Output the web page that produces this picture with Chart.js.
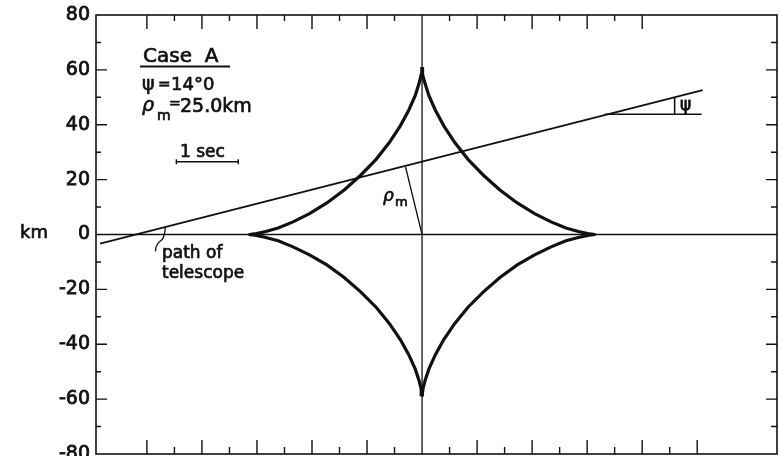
<!DOCTYPE html>
<html><head><meta charset="utf-8">
<script src="https://cdn.jsdelivr.net/npm/chart.js@4/dist/chart.umd.min.js"></script>
<style>html,body{margin:0;padding:0;background:#fff}#wrap{width:781px;height:456px}</style>
</head><body><div id="wrap"><canvas id="c" width="781" height="456"></canvas></div>
<script>
// ---- data (km) ----
const xRange = [-118.5, 129];
const yRange = [-80, 80];
const yTickLabels = [-80, -60, -40, -20, 0, 20, 40, 60, 80];
const yMinorLeft = [-70, -60, -50, -40, -30, -20, -10, 10, 20, 30, 40, 50, 60, 70];
const yMinorRight = [-70, -60, -50, -40, -30, -20, -10, 10, 20, 30, 40, 50, 60, 70];
const xTicksBottom = [-100, -90, -80, -70, -60, -50, -40, -30, -20, -10, 10, 20, 30, 40, 50, 60, 70, 80, 90, 100];
const xTicksTop = [-100, -90, -80, -70, -60, -50, -40, -30, -20, -10, 10, 20, 30, 40, 50, 60, 70, 80];

const causticUpperLeft = [
  {x:-63,y:0},{x:-62.3,y:0.05},{x:-60.2,y:0.3},{x:-56.8,y:1.1},{x:-52.3,y:2.4},{x:-46.9,y:4.6},
  {x:-40.9,y:7.6},{x:-34.6,y:11.5},{x:-28.3,y:16.2},{x:-22.3,y:21.6},{x:-16.7,y:27.4},{x:-11.9,y:33.5},
  {x:-7.9,y:39.6},{x:-4.8,y:45.4},{x:-2.5,y:50.6},{x:-1.1,y:55.0},{x:-0.3,y:58.3},{x:-0.05,y:60.3},{x:0,y:61}
];
const causticUpperRight = [
  {x:0,y:61},{x:0.05,y:60.3},{x:0.3,y:58.3},{x:1.1,y:55.0},{x:2.5,y:50.6},{x:4.8,y:45.4},{x:7.9,y:39.6},
  {x:11.9,y:33.5},{x:16.7,y:27.4},{x:22.3,y:21.6},{x:28.3,y:16.2},{x:34.6,y:11.5},{x:40.9,y:7.6},
  {x:46.9,y:4.6},{x:52.3,y:2.4},{x:56.8,y:1.1},{x:60.2,y:0.3},{x:62.3,y:0.05},{x:63,y:0}
];
const causticLowerRight = [
  {x:63,y:0},{x:62.3,y:-0.05},{x:60.2,y:-0.3},{x:56.8,y:-1.1},{x:52.3,y:-2.3},{x:46.9,y:-4.5},
  {x:40.9,y:-7.4},{x:34.6,y:-11.1},{x:28.3,y:-15.7},{x:22.3,y:-20.9},{x:16.7,y:-26.5},{x:11.9,y:-32.4},
  {x:7.9,y:-38.3},{x:4.8,y:-43.9},{x:2.5,y:-49.0},{x:1.1,y:-53.2},{x:0.3,y:-56.4},{x:0.05,y:-58.3},{x:0,y:-59}
];
const causticLowerLeft = [
  {x:0,y:-59},{x:-0.05,y:-58.3},{x:-0.3,y:-56.4},{x:-1.1,y:-53.2},{x:-2.5,y:-49.0},{x:-4.8,y:-43.9},
  {x:-7.9,y:-38.3},{x:-11.9,y:-32.4},{x:-16.7,y:-26.5},{x:-22.3,y:-20.9},{x:-28.3,y:-15.7},{x:-34.6,y:-11.1},
  {x:-40.9,y:-7.4},{x:-46.9,y:-4.5},{x:-52.3,y:-2.3},{x:-56.8,y:-1.1},{x:-60.2,y:-0.3},{x:-62.3,y:-0.05},{x:-63,y:0}
];
const telescopePath = [{x:-117,y:-3.3},{x:102,y:52.6}];
const rhoSegment = [{x:0,y:0},{x:-6.0,y:24.6}];
const psiBase = [{x:66.4,y:43.8},{x:101.6,y:43.8}];
const psiMark = [{x:91.8,y:43.8},{x:91.8,y:49.8}];
const pathPointer = [{x:-96.9,y:-6.2},{x:-96.6,y:-4.4},{x:-95.6,y:-2.8},{x:-94.3,y:-1.6},{x:-93.6,y:0.4},{x:-93.3,y:2.6}];
const secBar = [{x:-89.3,y:26.5},{x:-66.8,y:26.5}];
const xAxisLine = [{x:xRange[0],y:0},{x:xRange[1],y:0}];
const yAxisLine = [{x:0,y:yRange[0]},{x:0,y:yRange[1]}];

const INK = '#111';
const FONT = '"DejaVu Sans", sans-serif';

function line(data, w, extra) {
  return Object.assign({data, showLine:true, borderColor:INK, borderWidth:w, pointRadius:0, fill:false, tension:0}, extra||{});
}

const decor = {
  id:'decor',
  afterDatasetsDraw(chart){
    const {ctx, chartArea:a, scales:{x, y}} = chart;
    ctx.save();
    ctx.strokeStyle = INK; ctx.lineWidth = 1.6;
    ctx.strokeRect(a.left, a.top, a.right - a.left, a.bottom - a.top);
    ctx.lineWidth = 1.4;
    ctx.beginPath();
    yMinorLeft.forEach(v => { const p = y.getPixelForValue(v); const L = v % 20 === 0 ? 11 : 5; ctx.moveTo(a.left, p); ctx.lineTo(a.left + L, p); });
    yMinorRight.forEach(v => { const p = y.getPixelForValue(v); const L = v % 20 === 0 ? 11 : 6; ctx.moveTo(a.right, p); ctx.lineTo(a.right - L, p); });
    xTicksBottom.forEach(v => { const p = x.getPixelForValue(v); const L = v % 20 === 0 ? 14 : 7; ctx.moveTo(p, a.bottom); ctx.lineTo(p, a.bottom - L); });
    xTicksTop.forEach(v => { const p = x.getPixelForValue(v); const L = v % 20 === 0 ? 14 : 6; ctx.moveTo(p, a.top); ctx.lineTo(p, a.top + L); });
    ctx.stroke();
    ctx.beginPath();
    secBar.forEach(pt => { const px = x.getPixelForValue(pt.x), py = y.getPixelForValue(pt.y); ctx.moveTo(px, py - 2.5); ctx.lineTo(px, py + 2.5); });
    ctx.stroke();

    ctx.fillStyle = INK;
    ctx.textBaseline = 'alphabetic';
    ctx.textAlign = 'left';
    ctx.lineJoin = 'round';
    const t = (s, px, py, size, style, sw) => {
      ctx.font = (style || '') + ' ' + size + 'px ' + FONT;
      ctx.fillText(s, px, py);
      ctx.lineWidth = sw === undefined ? 0.7 : sw;
      if (ctx.lineWidth > 0) ctx.strokeText(s, px, py);
    };
    t('Case  A', 143, 62, 20);
    ctx.lineWidth = 1.8;
    ctx.beginPath(); ctx.moveTo(140, 66.5); ctx.lineTo(230, 66.5); ctx.stroke();
    t('\u03C8', 142, 90, 19);
    t('=', 158, 89, 15, '', 0);
    t('14\u00B00', 171, 90, 18);
    t('\u03C1', 142, 111, 19, 'italic');
    t('m', 157, 120, 14);
    t('=', 169, 108, 14, '', 0);
    t('25.0km', 180, 112, 19);
    t('1 sec', 180, 157, 17);
    t('\u03C1', 383, 201, 17, 'italic');
    t('m', 395, 206, 13);
    t('path of', 162, 258, 17);
    t('telescope', 162, 278, 17);
    t('\u03C8', 680, 110, 17, '', 0.8);
    t('km', 20, 238, 18);
    ctx.restore();
  }
};

new Chart(document.getElementById('c'), {
  type:'scatter',
  data:{ datasets:[
    line(xAxisLine, 1.3),
    line(yAxisLine, 1.3),
    line(causticUpperLeft, 3.2),
    line(causticUpperRight, 3.2),
    line(causticLowerRight, 3.2),
    line(causticLowerLeft, 3.2),
    line(telescopePath, 1.8),
    line(rhoSegment, 1.3),
    line(psiBase, 1.6),
    line(psiMark, 1.6),
    line(pathPointer, 1.3, {tension:0.4}),
    line(secBar, 1.4)
  ]},
  options:{
    responsive:false, devicePixelRatio:1, animation:false,
    layout:{ padding:{ left:0, top:15, right:4, bottom:2 } },
    plugins:{ legend:{display:false}, tooltip:{enabled:false} },
    scales:{
      x:{ type:'linear', min:xRange[0], max:xRange[1], display:false },
      y:{ type:'linear', min:yRange[0], max:yRange[1],
        afterBuildTicks(s){ s.ticks = yTickLabels.map(v => ({value:v})); },
        afterFit(s){ s.width = 96; s.paddingTop = 0; s.paddingBottom = 0; },
        grid:{ display:false, drawTicks:false },
        border:{ display:false },
        ticks:{ padding:6, color:INK, textStrokeColor:INK, textStrokeWidth:0.8,
          font:{ family:'DejaVu Sans', size:19 }, callback:v => String(v) }
      }
    }
  },
  plugins:[decor]
});
</script>
</body></html>
